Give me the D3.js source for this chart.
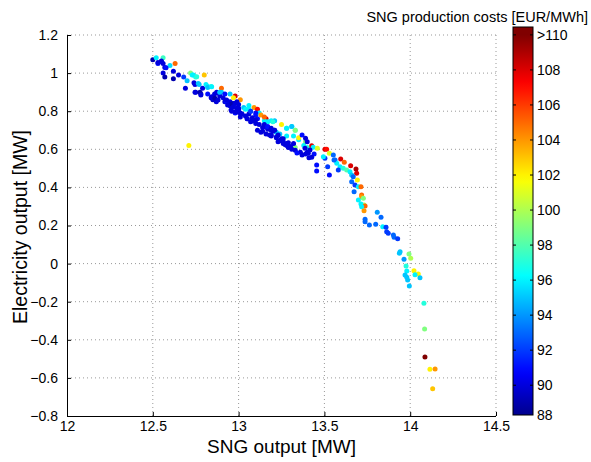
<!DOCTYPE html>
<html>
<meta charset="utf-8">
<style>
  body { margin: 0; background: #fff; }
  text { font-family: "Liberation Sans", Arial, sans-serif; }
</style>
<script src="https://d3js.org/d3.v7.min.js"></script>
<body>

<script>
var svgWidth = 591, svgHeight = 462;

// SNG output [MW]
var sngOutput = [
  12.50, 12.52, 12.56, 12.53, 12.55, 12.57, 12.56, 12.60, 12.63, 12.62, 12.56, 12.57, 12.62, 12.65, 12.68, 12.70,
  12.72, 12.73, 12.75, 12.80, 12.69, 12.74, 12.77, 12.75, 12.79, 12.78,
  12.81, 12.82, 12.84, 12.90, 12.90, 12.82, 12.84, 12.85, 12.87, 12.86, 12.89, 12.91, 12.92, 12.95, 12.98, 12.97,
  13.01, 12.93, 12.95, 12.97, 12.99, 12.96, 13.00, 13.01, 12.98, 13.03, 13.06, 13.09, 13.11, 13.07, 13.10, 13.12,
  13.01, 13.05, 13.08, 13.11, 13.13, 13.16, 13.15, 13.19, 13.21, 13.12, 13.15, 13.11, 13.17, 13.19, 13.21, 13.25,
  13.28, 13.31, 13.33, 13.22, 13.24, 13.28, 13.32, 13.35, 13.19, 13.22, 13.25, 13.26, 13.28, 13.29, 13.32, 13.33,
  12.71,
  13.00, 13.00, 13.02, 13.04, 13.06, 13.08, 13.07, 13.10, 13.10, 13.14, 13.14, 13.17, 13.18, 13.20, 13.23, 13.24,
  13.26, 13.27, 13.29, 13.30, 13.33, 13.36, 13.39, 13.41, 13.40, 13.44,
  13.04, 13.06, 13.15, 13.17, 13.20, 13.28, 13.31, 13.33, 13.35, 13.39, 13.38, 13.40,
  13.37, 13.39, 13.40,
  12.95, 12.97, 13.00, 13.07, 13.10, 13.05, 13.08, 13.15, 13.17, 13.19, 13.21, 13.19, 13.22, 13.25, 13.26, 13.28,
  13.29, 13.32,
  12.53, 12.55, 12.577, 12.746, 12.746, 12.775, 12.78, 12.843, 12.853, 12.862, 12.88, 12.872, 12.886, 12.92, 12.93,
  12.95, 12.96, 12.98, 12.936, 12.97, 12.99, 12.956, 12.98, 12.998,
  12.736, 12.756, 12.765, 12.82, 12.843, 12.89,
  13.13, 13.16, 13.23, 13.31, 13.34, 13.37,
  13.426, 13.435, 13.459, 13.416, 13.387, 13.406, 13.426,
  13.503, 13.513, 13.529, 13.455, 13.455, 13.519, 13.529, 13.503, 13.494, 13.552, 13.562,
  13.595, 13.616, 13.653, 13.684, 13.688, 13.692, 13.572, 13.591, 13.610, 13.581, 13.630, 13.649, 13.659, 13.668,
  13.659, 13.678, 13.698, 13.673, 13.556,
  13.713, 13.717, 13.717, 13.731, 13.713, 13.737, 13.717, 13.731, 13.698, 13.727,
  13.808, 13.830, 13.737, 13.737, 13.762, 13.799, 13.840, 13.859, 13.863, 13.872, 13.902, 13.906, 13.927,
  13.941, 13.937, 13.964, 13.993, 14.003, 13.976, 14.022, 14.047, 13.980, 14.028, 14.057, 13.970, 13.980,
  13.985, 13.995,
  14.080, 14.084, 14.086, 14.115, 14.145, 14.131
];

// Electricity output [MW]
var elecOutput = [
  1.07, 1.08, 1.08, 1.05, 1.06, 1.03, 1.05, 1.04, 1.05, 1.01, 1.00, 0.98, 0.97, 0.99, 0.98, 0.96,
  1.00, 0.99, 0.98, 0.99, 0.92, 0.95, 0.94, 0.90, 0.92, 0.89,
  0.94, 0.93, 0.93, 0.92, 0.90, 0.89, 0.87, 0.86, 0.85, 0.89, 0.88, 0.87, 0.85, 0.89, 0.88, 0.87,
  0.86, 0.85, 0.83, 0.84, 0.85, 0.80, 0.81, 0.79, 0.79, 0.82, 0.83, 0.82, 0.81, 0.80, 0.78, 0.79,
  0.77, 0.76, 0.75, 0.76, 0.78, 0.76, 0.75, 0.75, 0.75, 0.73, 0.72, 0.70, 0.71, 0.70, 0.70, 0.73,
  0.71, 0.72, 0.70, 0.69, 0.68, 0.67, 0.67, 0.65, 0.67, 0.66, 0.65, 0.63, 0.62, 0.61, 0.62, 0.61,
  0.62,
  0.835, 0.795, 0.785, 0.775, 0.785, 0.765, 0.745, 0.755, 0.735, 0.715, 0.695, 0.705, 0.675, 0.695, 0.675, 0.645,
  0.655, 0.625, 0.635, 0.615, 0.595, 0.585, 0.575, 0.555, 0.585, 0.575,
  0.81, 0.81, 0.77, 0.745, 0.745, 0.71, 0.72, 0.70, 0.66, 0.64, 0.62, 0.61,
  0.675, 0.658, 0.64,
  0.83, 0.84, 0.815, 0.80, 0.79, 0.76, 0.75, 0.73, 0.72, 0.71, 0.70, 0.675, 0.665, 0.655, 0.64, 0.63,
  0.615, 0.63,
  1.055, 1.064, 1.028, 0.94, 0.90, 0.90, 0.885, 0.876, 0.864, 0.868, 0.859, 0.90, 0.894, 0.89, 0.859,
  0.85, 0.838, 0.841, 0.833, 0.824, 0.815, 0.806, 0.797, 0.806,
  0.99, 0.981, 0.946, 0.925, 0.929, 0.90,
  0.69, 0.68, 0.64, 0.60, 0.58, 0.57,
  0.619, 0.611, 0.605, 0.596, 0.605, 0.579, 0.558,
  0.600, 0.600, 0.579, 0.518, 0.486, 0.509, 0.465, 0.553, 0.561, 0.570, 0.544,
  0.549, 0.532, 0.514, 0.497, 0.474, 0.439, 0.527, 0.509, 0.500, 0.491, 0.491, 0.482, 0.465, 0.456,
  0.430, 0.413, 0.404, 0.377, 0.544,
  0.404, 0.360, 0.351, 0.308, 0.313, 0.302, 0.299, 0.278, 0.334, 0.343,
  0.269, 0.243, 0.233, 0.220, 0.203, 0.206, 0.194, 0.191, 0.167, 0.159, 0.150, 0.138, 0.131,
  0.062, 0.054, 0.023, 0.050, 0.028, -0.013, -0.037, -0.055, -0.039, -0.058, -0.074, -0.060, -0.072,
  -0.086, -0.118,
  -0.208, -0.343, -0.490, -0.555, -0.553, -0.657
];

// SNG production costs [EUR/MWh]
var prodCost = [
  89, 96, 97.5, 91, 91, 90, 90, 95.5, 105, 90, 90, 89, 89, 90, 92, 95,
  99, 96, 97, 103, 90, 90, 95, 90, 90, 90,
  96, 96, 97, 105, 95, 91, 90, 89, 90, 90, 90, 90, 90, 95, 108, 102,
  104, 91, 90, 90, 90, 90, 90, 90, 91, 95, 96, 104, 107, 92, 91, 96,
  90, 90, 90, 91, 104, 108, 96, 96, 95, 90, 90, 90, 91, 90, 90, 102,
  96, 96, 98, 95, 95, 96, 96, 96, 90, 90, 90, 90, 90, 90, 90, 99,
  102,
  90, 90, 90, 90, 90, 90, 90, 90, 90, 90, 90, 90, 90, 90, 90, 90,
  90, 90, 90, 90, 90, 90, 90, 90, 90, 91,
  96, 96, 105, 96, 97, 96, 95, 99, 102, 99, 96, 97,
  91, 90, 90,
  90, 90, 90, 92, 91, 90, 90, 90, 91, 90, 90, 90, 90, 90, 90, 90,
  90, 90,
  90, 90, 91, 90, 90, 89, 90, 90, 90, 89, 90, 90, 90, 91, 90,
  90, 89, 90, 90, 90, 90, 90, 90, 90,
  96, 97, 95, 95, 96, 95,
  90, 90, 90, 90, 91, 90,
  108, 96, 101, 90, 90, 90, 90,
  108, 107, 101, 91, 91, 92, 91, 92, 96, 93, 93,
  108, 105, 108, 109, 108, 102, 96, 96, 97, 92, 98, 96, 95, 93,
  93, 92, 96, 93, 93,
  105, 105, 104, 100, 96, 105, 96, 104, 96, 99,
  94, 93, 93, 93, 93, 93, 96, 92, 92, 92, 93, 93, 92,
  95, 95, 94, 99, 100, 97, 102, 102, 96, 96, 95, 95, 95,
  95, 95,
  97, 99, 110, 102, 104, 103
];

var xTicks = [12, 12.5, 13, 13.5, 14, 14.5];
var yTicks = [-0.8, -0.6, -0.4, -0.2, 0, 0.2, 0.4, 0.6, 0.8, 1, 1.2];
var cbTicks = [88.3, 90, 92, 94, 96, 98, 100, 102, 104, 106, 108, 110];
var cbLabels = ["88", "90", "92", "94", "96", "98", "100", "102", "104", "106", "108", ">110"];

var points = sngOutput.map(function(d, i) {
  return { x: d, y: elecOutput[i], c: prodCost[i] };
});

// matlab jet
function jet(t) {
  t = Math.max(0, Math.min(1, t));
  function cl(v) { return Math.round(255 * Math.max(0, Math.min(1, v))); }
  return "rgb(" + cl(1.5 - Math.abs(4 * t - 3)) + "," + cl(1.5 - Math.abs(4 * t - 2)) + "," + cl(1.5 - Math.abs(4 * t - 1)) + ")";
}
var cNorm = d3.scaleLinear().domain([88, 110]).range([0, 1]).clamp(true);
var color = function(v) { return jet(cNorm(v)); };

var svg = d3.select("body")
  .append("svg")
  .attr("width", svgWidth)
  .attr("height", svgHeight);

var x = d3.scaleLinear().domain([12, 14.5]).range([67, 496]);
var y = d3.scaleLinear().domain([-0.8, 1.2]).range([416, 35]);

var fmt = function(d) { return d3.format("")(d).replace("-", "\u2212"); };

// grid
svg.append("g").selectAll("line")
  .data(xTicks.slice(1))
  .enter().append("line")
  .attr("x1", function(d) { return x(d); })
  .attr("x2", function(d) { return x(d); })
  .attr("y1", y(-0.8))
  .attr("y2", y(1.2))
  .attr("stroke", "#999")
  .attr("stroke-width", 1)
  .attr("stroke-dasharray", "1,3");

svg.append("g").selectAll("line")
  .data(yTicks.slice(1))
  .enter().append("line")
  .attr("x1", x(12))
  .attr("x2", x(14.5))
  .attr("y1", function(d) { return y(d); })
  .attr("y2", function(d) { return y(d); })
  .attr("stroke", "#999")
  .attr("stroke-width", 1)
  .attr("stroke-dasharray", "1,3");

// axes (ticks inside)
var xAxis = d3.axisBottom(x).tickValues(xTicks).tickSize(-4).tickPadding(8).tickFormat(fmt);
var yAxis = d3.axisLeft(y).tickValues(yTicks).tickSize(-4).tickPadding(9).tickFormat(fmt);

var gx = svg.append("g")
  .attr("transform", "translate(0," + y(-0.8) + ")")
  .call(xAxis);
var gy = svg.append("g")
  .attr("transform", "translate(" + x(12) + ",0)")
  .call(yAxis);

[gx, gy].forEach(function(g) {
  g.select(".domain").attr("stroke", "#000");
  g.selectAll(".tick line").attr("stroke", "#000");
  g.selectAll("text").attr("font-size", 14).attr("fill", "#000")
    .style("font-family", "'Liberation Sans', Arial, sans-serif");
});
gx.select(".domain").attr("d", "M" + x(12) + ",0.5H" + x(14.5));
gy.select(".domain").attr("d", "M0.5," + y(1.2) + "V" + y(-0.8));
gx.selectAll(".tick text").attr("dy", "0.5em");

// scatter
svg.append("g").selectAll("circle")
  .data(points)
  .enter().append("circle")
  .attr("cx", function(d) { return x(d.x); })
  .attr("cy", function(d) { return y(d.y); })
  .attr("r", 2.5)
  .attr("fill", function(d) { return color(d.c); });

// axis titles
svg.append("text")
  .attr("x", (x(12) + x(14.5)) / 2)
  .attr("y", 453)
  .attr("text-anchor", "middle")
  .attr("font-size", 19)
  .text("SNG output [MW]");

svg.append("text")
  .attr("transform", "translate(27," + 227 + ") rotate(-90)")
  .attr("text-anchor", "middle")
  .attr("font-size", 19.5)
  .text("Electricity output [MW]");

// colorbar
var cb = d3.scaleLinear().domain([88.3, 110.45]).range([415, 27]);
var cbX = 513, cbW = 20;

var grad = svg.append("defs").append("linearGradient")
  .attr("id", "jetgrad")
  .attr("x1", 0).attr("y1", 1).attr("x2", 0).attr("y2", 0);
d3.range(0, 1.0001, 0.02).forEach(function(t) {
  var v = cb.domain()[0] + t * (cb.domain()[1] - cb.domain()[0]);
  grad.append("stop").attr("offset", t).attr("stop-color", color(v));
});

svg.append("rect")
  .attr("x", cbX)
  .attr("y", cb(110.45))
  .attr("width", cbW)
  .attr("height", cb(88.3) - cb(110.45))
  .attr("fill", "url(#jetgrad)")
  .attr("stroke", "#000")
  .attr("stroke-width", 1);

var cbt = svg.append("g").selectAll("g")
  .data(cbTicks)
  .enter().append("g");
cbt.filter(function(d, i) { return i > 0; }).append("line")
  .attr("x1", cbX).attr("x2", cbX + 3)
  .attr("y1", function(d) { return cb(d); })
  .attr("y2", function(d) { return cb(d); })
  .attr("stroke", "#000");
cbt.filter(function(d, i) { return i > 0; }).append("line")
  .attr("x1", cbX + cbW - 3).attr("x2", cbX + cbW)
  .attr("y1", function(d) { return cb(d); })
  .attr("y2", function(d) { return cb(d); })
  .attr("stroke", "#000");
cbt.append("text")
  .attr("x", cbX + cbW + 4)
  .attr("y", function(d) { return cb(d); })
  .attr("dy", "0.35em")
  .attr("font-size", 14)
  .text(function(d, i) { return cbLabels[i]; });

svg.append("text")
  .attr("x", 588)
  .attr("y", 22)
  .attr("text-anchor", "end")
  .attr("font-size", 14.5)
  .text("SNG production costs [EUR/MWh]");
</script>
</body>
</html>
